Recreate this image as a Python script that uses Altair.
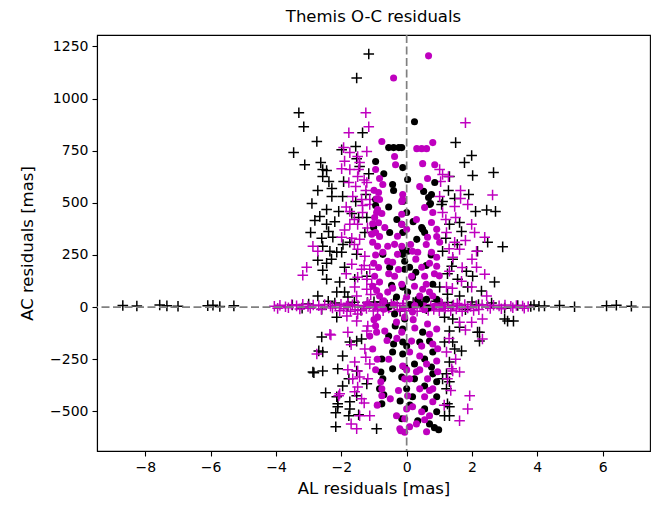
import altair as alt
import pandas as pd

# ---- data (AL residual [mas], AC residual [mas]) ----
black_plus_upper = [
    (-1.16, 1214), (-1.53, 1099), (-3.30, 932), (-3.15, 865), (-2.75, 794), (-3.46, 741),
    (-3.12, 683), (-2.63, 693), (-1.56, 770), (-1.99, 755), (-1.35, 836),
    (-2.57, 660), (-2.45, 655), (-2.57, 626), (-2.38, 602), (-2.72, 559), (-2.29, 569),
    (-2.29, 531), (-1.96, 531), (-1.93, 602), (-1.53, 712), (-1.44, 674), (-1.16, 640),
    (-1.25, 540), (-1.56, 507), (-2.90, 497),
    (1.50, 789), (1.99, 727), (1.77, 693), (2.02, 631), (2.66, 645), (1.31, 626), (1.28, 559),
    (1.47, 521), (1.90, 540), (1.10, 507),
    (-2.45, 468), (-2.08, 459), (-2.66, 435), (-2.81, 416), (-2.45, 397), (-2.39, 363),
    (-2.94, 358), (-2.60, 330), (-2.26, 335), (-1.68, 449), (-1.47, 430), (-1.22, 430),
    (-1.74, 311), (-1.28, 358), (-2.57, 292), (-2.35, 268), (-2.14, 263), (-1.99, 263),
    (-2.72, 225), (-2.45, 210), (-2.57, 177), (-1.90, 191), (-2.45, 134), (-2.05, 120),
    (-1.59, 134), (-1.53, 253), (-2.72, 53), (-2.14, 72), (-1.90, 72), (-1.80, 48), (-1.22, 148),
    (1.07, 492), (2.11, 459), (2.45, 466), (2.72, 459), (1.31, 397), (1.62, 406), (1.68, 363),
    (2.48, 311), (2.94, 289), (2.17, 268), (1.10, 268), (1.41, 229), (1.38, 196), (1.83, 172),
    (2.02, 148), (1.56, 134), (2.69, 120), (1.87, 96), (2.29, 77), (1.01, 96), (1.25, 62), (1.62, 53),
    (-2.20, 410), (-1.95, 300), (-2.30, 230), (1.20, 330), (1.55, 300), (1.25, 160),
]
black_plus_lower = [
    (-2.14, -48), (-2.60, -143), (-1.74, -167), (-1.53, -163), (-1.38, -153), (-2.69, -210),
    (-2.57, -215), (-1.96, -234), (-2.87, -311), (-2.57, -306), (-2.11, -296), (-1.53, -306),
    (-1.77, -344), (-1.96, -378), (-2.48, -411), (-1.53, -425), (-2.11, -464), (-2.11, -478),
    (-1.74, -488), (-1.77, -521), (-1.47, -516), (-1.22, -368), (-2.17, -574), (-0.92, -583),
    (-2.14, -430), (-2.17, -507), (-1.74, -454), (-2.84, -315),
    (1.16, -48), (1.41, -57), (1.62, -96), (1.31, -115), (2.23, -120), (2.23, -163), (1.16, -167),
    (1.41, -167), (1.47, -201), (1.68, -210), (1.31, -263), (1.22, -320), (1.31, -358),
    (1.22, -392), (1.10, -344), (1.25, -464), (1.31, -478), (1.16, -521), (1.31, -521),
    (3.00, -57), (3.09, -67), (3.27, -67), (2.17, -120),
]
black_plus_band = [
    (-8.69, 8), (-8.26, 5), (-7.56, 10), (-7.34, 6), (-7.00, 4), (-6.09, 7), (-5.93, 9),
    (-5.72, 3), (-5.29, 6), (4.22, 5), (4.68, 8), (5.14, 2), (6.12, 6), (6.42, 9), (6.88, 4),
    (-3.5, 10), (-3.0, 15), (-2.6, -10), (-2.2, 20), (-1.8, 5), (-1.4, -15), (-1.0, 25),
    (-0.6, 10), (0.2, 22), (0.6, -8), (1.0, 18), (1.4, 5), (1.8, -12), (2.2, 12), (2.6, 20),
    (3.0, -5), (3.4, 8), (3.8, 3), (-0.2, -20), (0.9, 28), (-2.4, 28), (-3.2, -5), (2.0, 25),
    (-1.2, 22), (-0.8, 24), (-0.4, 20), (0.5, 24), (1.25, 22), (-1.6, 23), (3.9, 10), (4.05, 4),
]

magenta_plus_upper = [
    (-1.25, 932), (-1.16, 865), (-1.77, 836), (-1.93, 765), (-1.74, 741), (-1.50, 722),
    (-1.22, 746), (-1.44, 693), (-1.99, 664), (-1.74, 660), (-1.47, 660), (-1.50, 626),
    (-1.77, 598), (-1.22, 598), (-1.56, 578), (-1.25, 559), (-1.65, 531), (-1.38, 516), (-1.13, 516),
    (1.80, 884), (1.01, 660), (1.10, 636), (1.28, 626), (1.04, 602), (1.65, 559), (2.63, 538),
    (1.01, 531), (1.65, 521),
    (-1.35, 487), (-1.13, 492), (-1.74, 459), (-1.35, 454), (-1.74, 397), (-1.50, 397),
    (-1.99, 335), (-1.68, 330), (-1.44, 325), (-2.87, 292), (-2.72, 268), (-1.50, 277),
    (-1.28, 244), (-1.68, 206), (-1.38, 182), (-1.13, 182), (-3.06, 191), (-3.18, 153),
    (-1.50, 143), (-1.22, 134), (-1.59, 96), (-1.22, 86), (-1.07, 110), (-1.53, 53),
    (1.10, 454), (1.47, 483), (1.87, 492), (1.99, 397), (2.08, 358), (1.22, 358), (1.47, 311),
    (1.62, 277), (2.39, 335), (2.14, 268), (1.41, 239), (1.31, 172), (2.14, 191), (2.39, 158),
    (1.68, 124), (1.99, 96), (2.45, 53), (1.22, 96),
    (-1.90, 700), (-1.30, 610), (-1.85, 480), (-1.60, 420), (-1.20, 380), (-1.90, 370),
    (-1.60, 300), (-1.30, 200), (-1.85, 160), (-1.10, 60), (1.50, 430), (1.20, 420),
    (1.80, 320), (1.30, 280), (2.00, 230), (1.70, 190), (1.40, 90),
]
magenta_plus_lower = [
    (-1.83, -43), (-1.53, -67), (-1.50, -33), (-2.32, -134), (-1.80, -120), (-1.22, -115),
    (-1.19, -91), (-1.28, -201), (-2.75, -225), (-1.59, -263), (-1.13, -273), (-1.50, -306),
    (-1.65, -344), (-1.44, -335), (-1.19, -344), (-1.50, -383), (-1.59, -406), (-1.38, -440),
    (-2.05, -416), (-1.44, -521), (-1.13, -521), (-1.53, -583), (-2.35, -130), (-2.08, -425),
    (1.99, -72), (2.32, -57), (2.32, -153), (1.62, -72), (1.22, -215), (1.41, -306),
    (1.62, -311), (1.93, -425), (1.87, -488), (1.62, -545), (1.25, -344), (1.38, -296),
    (-1.70, -180), (-1.25, -240), (-1.80, -300), (-1.30, -460), (-1.70, -560), (1.30, -150),
    (1.50, -250), (1.35, -400), (1.15, -470), (1.80, -110),
]
magenta_plus_band = [
    (-4.05, 4), (-3.88, 9), (-3.71, 2), (-3.52, 11), (-3.37, 6), (-3.18, 13), (-3.02, 3),
    (-2.86, 10), (-2.69, 7), (-2.51, 12), (-2.33, 4), (-2.18, 9), (-2.01, 14), (-1.84, 5),
    (-1.66, 11), (-1.49, 8), (-1.31, 3), (-1.14, 12), (-0.97, 6), (-0.81, 10), (-0.63, 4),
    (-0.47, 13), (-0.29, 7), (-0.12, 9), (0.06, 3), (0.23, 11), (0.41, 6), (0.58, 12),
    (0.74, 5), (0.92, 9), (1.09, 13), (1.27, 4), (1.43, 10), (1.61, 7), (1.78, 12), (1.96, 3),
    (2.13, 8), (2.31, 11), (2.48, 5), (2.66, 9), (2.83, 6), (3.01, 10), (3.19, 4), (3.36, 8),
    (3.55, 5), (3.72, 3),
    (-3.95, -6), (-3.62, -3), (-3.27, -9), (-2.95, -5), (-2.61, -11), (-2.27, -4), (-1.93, -8),
    (-1.58, -13), (-1.23, -6), (-0.89, -10), (-0.55, -4), (-0.21, -12), (0.14, -7), (0.49, -3),
    (0.83, -11), (1.18, -5), (1.52, -9), (1.87, -4), (2.21, -12), (2.56, -6), (2.90, -8),
    (3.25, -3), (3.60, -5),
    (-2.05, -18), (-1.72, -20), (-1.38, -16), (-1.02, -19), (-0.72, -17), (-0.38, -21),
    (-0.05, -18), (0.32, -20), (0.66, -16), (1.00, -19), (1.35, -17), (1.70, -20), (2.05, -16),
    (-1.80, 18), (-1.20, 20), (-0.70, 17), (-0.10, 19), (0.45, 18), (1.05, 20), (1.55, 17),
]

black_dots = [
    (-0.55, 765), (-0.40, 765), (-0.24, 765), (-0.95, 698), (-0.70, 640), (-0.43, 588),
    (-0.40, 559), (-0.12, 669), (0.03, 612), (-0.95, 516), (-0.12, 507), (0.24, 889),
    (-0.15, 765), (0.86, 598), (0.52, 555), (0.76, 540), (0.67, 526), (-0.95, 487), (-1.01, 382),
    (-0.52, 358), (-0.12, 358), (-0.73, 253), (-0.12, 253), (-0.06, 182), (-0.52, 191),
    (-0.46, 105), (-0.31, 48), (0.73, 497), (0.0, 454), (-0.15, 397), (0.46, 382), (0.55, 358),
    (0.31, 325), (-0.12, 277), (0.03, 268), (-0.06, 220), (0.09, 191), (0.18, 143), (0.28, 167),
    (-0.12, 96), (0.03, 72), (0.34, 38), (0.80, 110), (0.61, 38), (0.92, 38), (0.70, 492),
    (0.49, 373), (-0.30, 420), (-0.55, 480), (0.20, 410), (0.75, 250), (0.60, 200),
    (-0.37, -33), (-0.55, -139), (-0.40, -177), (-0.43, -215), (-0.76, -249), (-0.43, -296),
    (-0.79, -311), (-0.73, -344), (-0.83, -392), (-0.76, -464), (-0.12, -105), (-0.12, -167),
    (-0.12, -225), (0.0, -392), (-0.06, -57), (0.49, -120), (0.40, -167), (0.70, -163),
    (0.0, -187), (0.80, -215), (0.55, -249), (0.24, -273), (-0.06, -287), (0.76, -287),
    (-0.15, -335), (0.24, -344), (0.55, -378), (0.92, -358), (0.18, -430), (0.92, -430),
    (0.55, -488), (0.92, -502), (0.34, -545), (-0.15, -535), (0.98, -588), (0.85, -578),
    (-0.35, -90), (-0.70, -420), (0.10, -470), (0.70, -560), (0.80, -320), (-0.20, -450),
    (-0.55, 0), (0.10, 12), (0.65, -5), (0.40, 15),
]

magenta_dots = [
    (0.67, 1205), (-0.40, 1099), (-0.76, 794), (-0.37, 722), (-0.34, 683), (-0.95, 660),
    (-0.83, 617), (-0.73, 588), (-0.86, 550), (-0.83, 516), (-0.12, 540), (-0.12, 516),
    (0.31, 760), (0.46, 760), (0.61, 760), (0.80, 789), (0.49, 688), (0.86, 683), (0.64, 617),
    (0.40, 578), (-0.15, 507),
    (-0.89, 468), (-0.76, 449), (-0.95, 358), (-0.83, 339), (-0.67, 382), (-0.15, 445),
    (-0.15, 397), (0.0, 373), (-1.04, 311), (-0.89, 292), (-0.73, 263), (-0.58, 292),
    (-0.37, 301), (-0.28, 253), (-0.15, 292), (-0.58, 220), (-0.43, 215), (-0.98, 148),
    (-0.83, 120), (-0.37, 148), (-0.43, 91), (-0.58, 72), (-0.83, 53), (-0.15, 110),
    (0.55, 478), (0.80, 454), (0.76, 406), (0.92, 373), (0.64, 335), (0.92, 339), (1.01, 311),
    (0.18, 268), (0.34, 263), (0.76, 263), (0.92, 239), (0.92, 196), (0.46, 191), (0.55, 148),
    (0.15, 148), (0.24, 100), (0.49, 86), (0.70, 72), (0.80, 53), (0.0, 48), (0.40, 53),
    (-1.00, 560), (-0.92, 520), (-0.98, 430), (-1.04, 400), (-0.86, 405), (-1.07, 350),
    (-0.95, 250), (-1.01, 210), (-0.86, 190), (-1.04, 100), (-0.92, 80), (-0.70, 30),
    (-0.55, 160), (-0.28, 340), (-0.25, 180), (0.12, 300), (0.30, 420), (0.28, 230),
    (0.60, 300), (0.70, 210), (1.00, 150), (0.85, 160), (0.60, 110),
    (-0.92, 454), (-0.89, -48), (-0.92, -120), (-1.13, -139), (-0.67, -115), (-0.31, -72),
    (-1.04, -201), (-0.15, -120), (-0.12, -282), (-0.06, -344), (-0.79, -358), (-0.76, -392),
    (-0.76, -425), (-0.31, -521), (-0.06, -535), (-0.21, -583), (0.0, -488), (-0.06, -48),
    (0.18, -24), (0.64, -81), (0.92, -105), (0.15, -163), (0.46, -187), (0.80, -177),
    (0.09, -215), (0.40, -234), (0.61, -273), (0.92, -258), (0.0, -301), (0.40, -301),
    (0.64, -344), (0.09, -344), (0.80, -392), (0.40, -392), (0.03, -425), (0.55, -430),
    (0.80, -454), (0.18, -478), (0.46, -502), (0.70, -521), (0.09, -574), (0.61, -598),
    (-0.18, -593), (-0.06, -600),
    (-1.00, -60), (-0.95, -90), (-0.60, -160), (-0.90, -250), (-0.95, -300), (-0.55, -250),
    (-0.30, -150), (-0.25, -400), (-0.50, -440), (-0.90, -470), (0.25, -100), (0.70, -130),
    (0.30, -310), (0.95, -310), (0.70, -400), (0.30, -560), (0.55, -540), (0.20, -60),
    (0.95, -200),
    (-0.95, 5), (-0.70, -10), (-0.40, 12), (-0.10, -5), (0.25, 8), (0.55, -12), (0.85, 5),
    (1.10, -3), (-1.20, 15),
]

x_ticks = [-8, -6, -4, -2, 0, 2, 4, 6]
y_ticks = [-500, -250, 0, 250, 500, 750, 1000, 1250]
title_text = "Themis O-C residuals"
x_title = "AL residuals [mas]"
y_title = "AC residuals [mas]"


def frame(points):
    return pd.DataFrame(points, columns=["x", "y"])


FONT = "DejaVu Sans"
xs = alt.Scale(domain=[-9.48, 7.45], nice=False, zero=False)
ys = alt.Scale(domain=[-690, 1305], nice=False, zero=False)
X = alt.X("x:Q", scale=xs, axis=alt.Axis(values=x_ticks, format="d", title=x_title))
Y = alt.Y("y:Q", scale=ys, axis=alt.Axis(values=y_ticks, format="d", title=y_title))

PLUS = "M-1,0H1M0,-1V1"
BLACK = "#000000"
MAGENTA = "#bf00bf"


def crosses(points, color):
    return alt.Chart(frame(points)).mark_point(
        shape=PLUS, size=112, filled=False, stroke=color, strokeWidth=1.5, opacity=1
    ).encode(x=X, y=Y)


def dots(points, color):
    return alt.Chart(frame(points)).mark_circle(
        size=50, color=color, opacity=1
    ).encode(x=X, y=Y)


layers = [
    crosses(black_plus_upper + black_plus_lower + black_plus_band, BLACK),
    crosses(magenta_plus_upper + magenta_plus_lower + magenta_plus_band, MAGENTA),
    dots(black_dots, BLACK),
    dots(magenta_dots, MAGENTA),
    alt.Chart(pd.DataFrame({"x": [0]})).mark_rule(
        color="#808080", strokeDash=[8, 3.5], strokeWidth=1.7
    ).encode(x=X),
    alt.Chart(pd.DataFrame({"y": [0]})).mark_rule(
        color="#808080", strokeDash=[8, 3.5], strokeWidth=1.7
    ).encode(y=Y),
]

chart = alt.layer(*layers).properties(
    width=553,
    height=416,
    padding={"left": 97, "top": 35, "right": 2, "bottom": 56},
    autosize=alt.AutoSizeParams(type="none"),
    title=alt.TitleParams(
        title_text, font=FONT, fontSize=16.5, fontWeight="normal", color="black",
        anchor="middle", offset=9
    ),
).configure_view(
    stroke="black", strokeWidth=1.1
).configure_axis(
    labelFont=FONT, labelFontSize=14, labelColor="black",
    titleFont=FONT, titleFontSize=16.5, titleFontWeight="normal", titleColor="black",
    tickColor="black", tickSize=5, tickWidth=1.1, domainColor="black", domainWidth=1.1,
    grid=False, labelPadding=4,
).configure_axisX(
    titlePadding=6
).configure_axisY(
    titlePadding=14
)

chart.save("out.html", embed_options={"renderer": "svg", "actions": False})
